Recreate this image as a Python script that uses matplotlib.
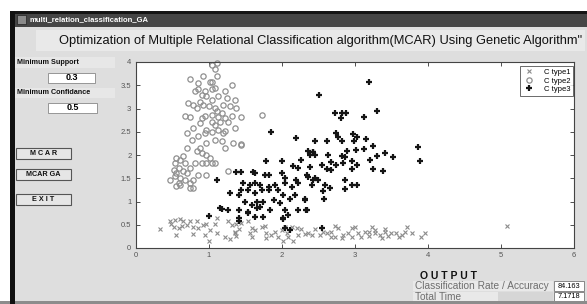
import matplotlib
matplotlib.use('Agg')
import matplotlib.pyplot as plt
from matplotlib.patches import Rectangle

plt.rcParams['font.family'] = ['Liberation Sans', 'DejaVu Sans']

# ---------------- data ----------------
type1 = [(0.33,0.40),(0.47,0.57),(0.49,0.52),(0.54,0.60),(0.61,0.62),(0.65,0.59),(0.52,0.46),(0.59,0.42),
         (0.63,0.47),(0.70,0.49),(0.75,0.57),(0.84,0.59),(0.79,0.46),(0.86,0.42),(0.93,0.49),(0.97,0.52),
         (1.11,0.64),(1.09,0.52),(0.56,0.29),(0.79,0.30),(0.95,0.28),(1.02,0.39),(1.11,0.32),(1.00,0.14),
         (1.27,0.57),(1.32,0.49),(1.38,0.52),(1.45,0.54),(1.54,0.57),(1.41,0.40),(1.59,0.42),(1.63,0.39),
         (1.73,0.46),(1.77,0.47),(1.22,0.23),(1.29,0.19),(1.36,0.32),(1.38,0.26),(1.57,0.32),(1.59,0.23),
         (1.79,0.32),(1.86,0.28),(1.91,0.35),(2.00,0.39),(2.07,0.33),(2.14,0.46),(2.21,0.42),(2.27,0.40),
         (2.32,0.30),(2.16,0.14),(1.95,0.24),(2.23,0.28),(2.36,0.32),(2.46,0.40),(2.52,0.28),(2.62,0.32),
         (2.68,0.35),(2.73,0.47),(2.77,0.42),(2.84,0.28),(2.91,0.32),(2.96,0.42),(3.00,0.46),(3.05,0.32),
         (3.14,0.35),(3.19,0.26),(3.23,0.46),(3.28,0.32),(3.34,0.28),(3.41,0.35),(3.46,0.26),(3.50,0.32),
         (3.60,0.24),(3.64,0.28),(3.71,0.46),(3.78,0.32),(3.69,0.35),(3.96,0.33),(5.08,0.47),(1.36,0.35),
         (2.41,0.28),(2.73,0.24),(2.82,0.21),(3.09,0.24),(3.37,0.21),(3.57,0.32),(3.91,0.24),(2.05,0.46),
         (2.09,0.24),(1.79,0.21),(2.02,0.14),(2.57,0.35),(2.68,0.24),(2.96,0.24),(3.19,0.35),(3.28,0.39),
         (3.41,0.40)]

type2 = [(1.11,3.98),(1.04,3.94),(1.09,3.84),(1.11,3.69),(0.93,3.69),(0.75,3.64),(1.02,3.57),(1.04,3.58),
         (0.86,3.55),(1.09,3.44),(0.86,3.41),(0.95,3.37),(1.04,3.41),(1.32,3.51),(1.22,3.37),(0.81,3.37),
         (0.91,3.30),(0.97,3.26),(1.13,3.26),(1.25,3.23),(1.36,3.19),(0.88,3.15),(1.04,3.19),(0.72,3.12),
         (0.79,3.08),(0.93,3.08),(1.00,3.05),(1.09,3.01),(1.20,3.08),(1.29,3.05),(1.38,3.01),(0.84,3.01),
         (1.11,2.94),(1.18,2.90),(1.04,2.87),(0.95,2.83),(0.68,2.83),(0.75,2.81),(0.91,2.80),(1.13,2.81),
         (1.22,2.80),(1.32,2.83),(1.45,2.81),(1.04,2.72),(1.16,2.72),(1.27,2.72),(0.88,2.69),(1.09,2.65),
         (1.36,2.58),(0.97,2.54),(1.13,2.54),(1.22,2.51),(0.79,2.58),(0.70,2.47),(0.95,2.47),(1.04,2.49),
         (1.20,2.47),(0.86,2.40),(0.77,2.33),(1.09,2.33),(1.18,2.31),(1.34,2.26),(1.45,2.21),(0.97,2.26),
         (0.88,2.15),(0.70,2.14),(1.22,2.15),(0.84,2.08),(0.91,2.04),(0.97,2.01),(0.65,1.97),(0.56,1.94),
         (0.61,1.90),(1.02,1.94),(1.09,1.83),(0.54,1.83),(0.68,1.83),(0.81,1.83),(0.91,1.83),(0.97,1.83),
         (1.04,1.83),(0.75,1.72),(0.59,1.72),(0.52,1.68),(0.65,1.65),(0.56,1.61),(0.70,1.61),(0.86,1.58),
         (0.54,1.54),(0.61,1.51),(0.97,1.58),(0.47,1.47),(0.68,1.47),(0.79,1.47),(0.75,1.40),(0.59,1.40),
         (0.56,1.33),(0.61,1.35),(0.75,1.29),(0.79,1.29),(1.27,1.66),(1.73,2.87),(1.45,2.23)]

type3 = [(1.85,2.50),(2.20,2.36),(2.43,2.07),(1.79,1.88),(2.00,1.88),(2.27,1.89),(2.16,1.76),(2.23,1.71),
         (2.39,1.75),(1.11,1.46),(1.38,1.63),(1.45,1.63),(1.61,1.64),(1.63,1.61),(1.77,1.57),(1.82,1.57),
         (2.00,1.61),(2.05,1.50),(2.20,1.46),(2.34,1.57),(1.47,1.39),(1.57,1.35),(1.63,1.39),(1.70,1.35),
         (1.82,1.32),(1.91,1.35),(2.05,1.39),(2.14,1.32),(2.23,1.39),(1.45,1.25),(1.54,1.25),(1.73,1.25),
         (1.82,1.25),(1.29,1.18),(1.41,1.14),(1.63,1.18),(1.95,1.25),(2.02,1.14),(2.18,1.14),(2.43,1.46),
         (1.50,1.00),(1.59,0.92),(1.66,1.00),(1.75,1.00),(1.89,1.03),(1.98,0.96),(2.11,1.05),(2.32,1.03),
         (1.16,0.85),(1.27,0.82),(1.41,0.82),(1.54,0.78),(1.66,0.85),(1.70,0.89),(1.84,0.82),(2.05,0.82),
         (2.23,0.82),(2.34,0.82),(1.00,0.69),(1.41,0.64),(1.63,0.67),(1.75,0.67),(2.02,0.64),(1.41,0.57),
         (2.05,0.42),(2.11,0.39),(2.55,0.42),(1.18,0.83),(1.54,0.75),(2.09,0.71),(2.02,0.62),
         (3.20,3.58),(2.51,3.29),(3.31,2.95),(2.73,2.91),(2.82,2.91),(2.88,2.91),(2.81,2.79),(3.12,2.81),
         (2.75,2.48),(2.97,2.45),(3.03,2.39),(2.77,2.38),(3.16,2.34),(2.46,2.30),(2.62,2.30),(2.82,2.30),
         (2.99,2.30),(3.25,2.19),(3.12,2.13),(2.89,2.09),(3.02,2.11),(2.36,2.09),(2.43,2.07),(3.41,2.05),
         (3.87,2.18),(2.39,1.99),(2.46,2.00),(2.64,2.00),(2.82,1.98),(2.87,1.95),(3.30,1.98),(3.53,1.95),
         (3.21,1.89),(3.89,1.88),(2.68,1.86),(2.96,1.88),(2.55,1.78),(2.75,1.78),(2.84,1.82),(3.03,1.78),
         (2.62,1.69),(2.68,1.68),(2.96,1.69),(3.25,1.69),(3.39,1.66),(2.46,1.50),(2.50,1.46),(2.36,1.53),
         (2.87,1.46),(2.59,1.35),(2.96,1.35),(3.03,1.35),(2.41,1.35),(2.66,1.28),(2.57,1.23),(2.87,1.26),
         (2.32,1.05),(2.58,1.05),(2.33,0.82)]

series_labels = ['C type1', 'C type2', 'C type3']
xticks = [0, 1, 2, 3, 4, 5, 6]
yticks = [0, 0.5, 1, 1.5, 2, 2.5, 3, 3.5, 4]
ytick_labels = ['0', '0.5', '1', '1.5', '2', '2.5', '3', '3.5', '4']
window_title = 'multi_relation_classification_GA'
main_title = 'Optimization of Multiple Relational Classification algorithm(MCAR) Using Genetic Algorithm"'
min_support = '0.3'
min_confidence = '0.5'
buttons = ['M C A R', 'MCAR GA', 'E X I T']
accuracy = '84.163'
total_time = '7.1718'

# ---------------- figure / GUI ----------------
W, H = 587, 304
fig = plt.figure(figsize=(W / 100, H / 100), dpi=100, facecolor='white')
bg = fig.add_axes([0, 0, 1, 1])
bg.set_xlim(0, W)
bg.set_ylim(H, 0)
bg.axis('off')


def rect(x0, y0, x1, y1, fc, ec='none', lw=0, z=1):
    bg.add_patch(Rectangle((x0, y0), x1 - x0, y1 - y0, facecolor=fc,
                           edgecolor=ec, linewidth=lw, zorder=z))


rect(14, 27, W, 301, '#dedede')
rect(10, 11, 15, H, '#111111', z=3)
rect(10, 11, W, 27, '#454545', z=2)
rect(10, 11, W, 14, '#151515', z=2)
rect(17, 15, 26, 24, '#8a8a8a', ec='#222', lw=0.5, z=3)
bg.text(29, 19.5, window_title, color='white', fontsize=5.5, fontweight='bold',
        va='center', ha='left', zorder=4)

rect(36, 30, 585, 51, '#e9e9e9')
bg.text(321, 41, main_title, ha='center', va='center', fontsize=9.25, color='#111', zorder=4)

# left controls
rect(15, 57, 115, 68, '#e7e7e7')
bg.text(17, 62.5, 'Minimum Support', fontsize=5.2, fontweight='bold', va='center', color='#111', zorder=4)
rect(48, 73, 95, 83, 'white', ec='#888', lw=0.6, z=2)
bg.text(71.5, 78, min_support, fontsize=6.5, fontweight='bold', ha='center', va='center', zorder=4)
rect(15, 88, 115, 98, '#e7e7e7')
bg.text(17, 93, 'Minimum Confidance', fontsize=5.2, fontweight='bold', va='center', color='#111', zorder=4)
rect(48, 103, 97, 113, 'white', ec='#888', lw=0.6, z=2)
bg.text(72.5, 108, min_confidence, fontsize=6.5, fontweight='bold', ha='center', va='center', zorder=4)

for label, (y0, y1) in zip(buttons, [(148, 159), (169, 180), (194, 205)]):
    rect(16, y0, 71, y1, '#e6e6e6', ec='#555', lw=0.8, z=2)
    bg.text(43.5, (y0 + y1) / 2, label, fontsize=5.2, fontweight='bold', ha='center',
            va='center', color='#111', zorder=4)

# output panel
bg.text(420, 276, 'O U T P U T', fontsize=7.5, fontweight='bold', va='center', color='#111', zorder=4)
rect(413, 281, 553, 291, '#e9e9e9')
bg.text(415, 286, 'Classification Rate / Accuracy', fontsize=7.3, color='#6e6e6e', va='center', zorder=4)
rect(413, 292, 498, 301, '#e9e9e9')
rect(498, 292, 553, 301, '#d6d6d6')
bg.text(415, 296.5, 'Total Time', fontsize=7.3, color='#6e6e6e', va='center', zorder=4)
rect(554, 281, 584, 291, 'white', ec='#777', lw=0.6, z=2)
bg.text(569, 286, accuracy, fontsize=5.3, ha='center', va='center', zorder=4)
rect(554, 291.5, 584, 301, 'white', ec='#777', lw=0.6, z=2)
bg.text(569, 296.3, total_time, fontsize=5.3, ha='center', va='center', zorder=4)
rect(0, 301, W, H, '#8c8c8c', z=2)

# ---------------- plot ----------------
ax = fig.add_axes([135.5 / W, 1 - 248 / H, (574 - 135.5) / W, (248 - 62) / H])
ax.set_facecolor('white')
x1, y1 = zip(*type1)
x2, y2 = zip(*type2)
x3, y3 = zip(*type3)
ax.plot(x1, y1, 'x', color='#8c8c8c', ms=2.4, mew=0.8, label=series_labels[0], clip_on=False)
ax.plot(x2, y2, 'o', mfc='none', mec='#8f8f8f', ms=3.8, mew=0.9, label=series_labels[1], clip_on=False)
ax.plot(x3, y3, '+', color='#151515', ms=4.2, mew=1.6, label=series_labels[2], clip_on=False)
ax.set_xlim(0, 6)
ax.set_ylim(0, 4)
ax.set_xticks(xticks)
ax.set_yticks(yticks)
ax.set_yticklabels(ytick_labels)
ax.tick_params(direction='in', top=True, right=True, length=3, width=0.6, color='#333',
               labelsize=5.5, labelcolor='#555', pad=3)
for s in ax.spines.values():
    s.set_color('#444')
    s.set_linewidth(0.8)

leg = ax.legend(loc='upper right', bbox_to_anchor=(0.998, 0.978), fontsize=5.5, frameon=True,
                fancybox=False, edgecolor='#444', borderpad=0.35, handlelength=1.8,
                handletextpad=1.0, labelspacing=0.15, borderaxespad=0)
leg.get_frame().set_linewidth(0.7)

fig.savefig('out.png', dpi=100, facecolor='white')
